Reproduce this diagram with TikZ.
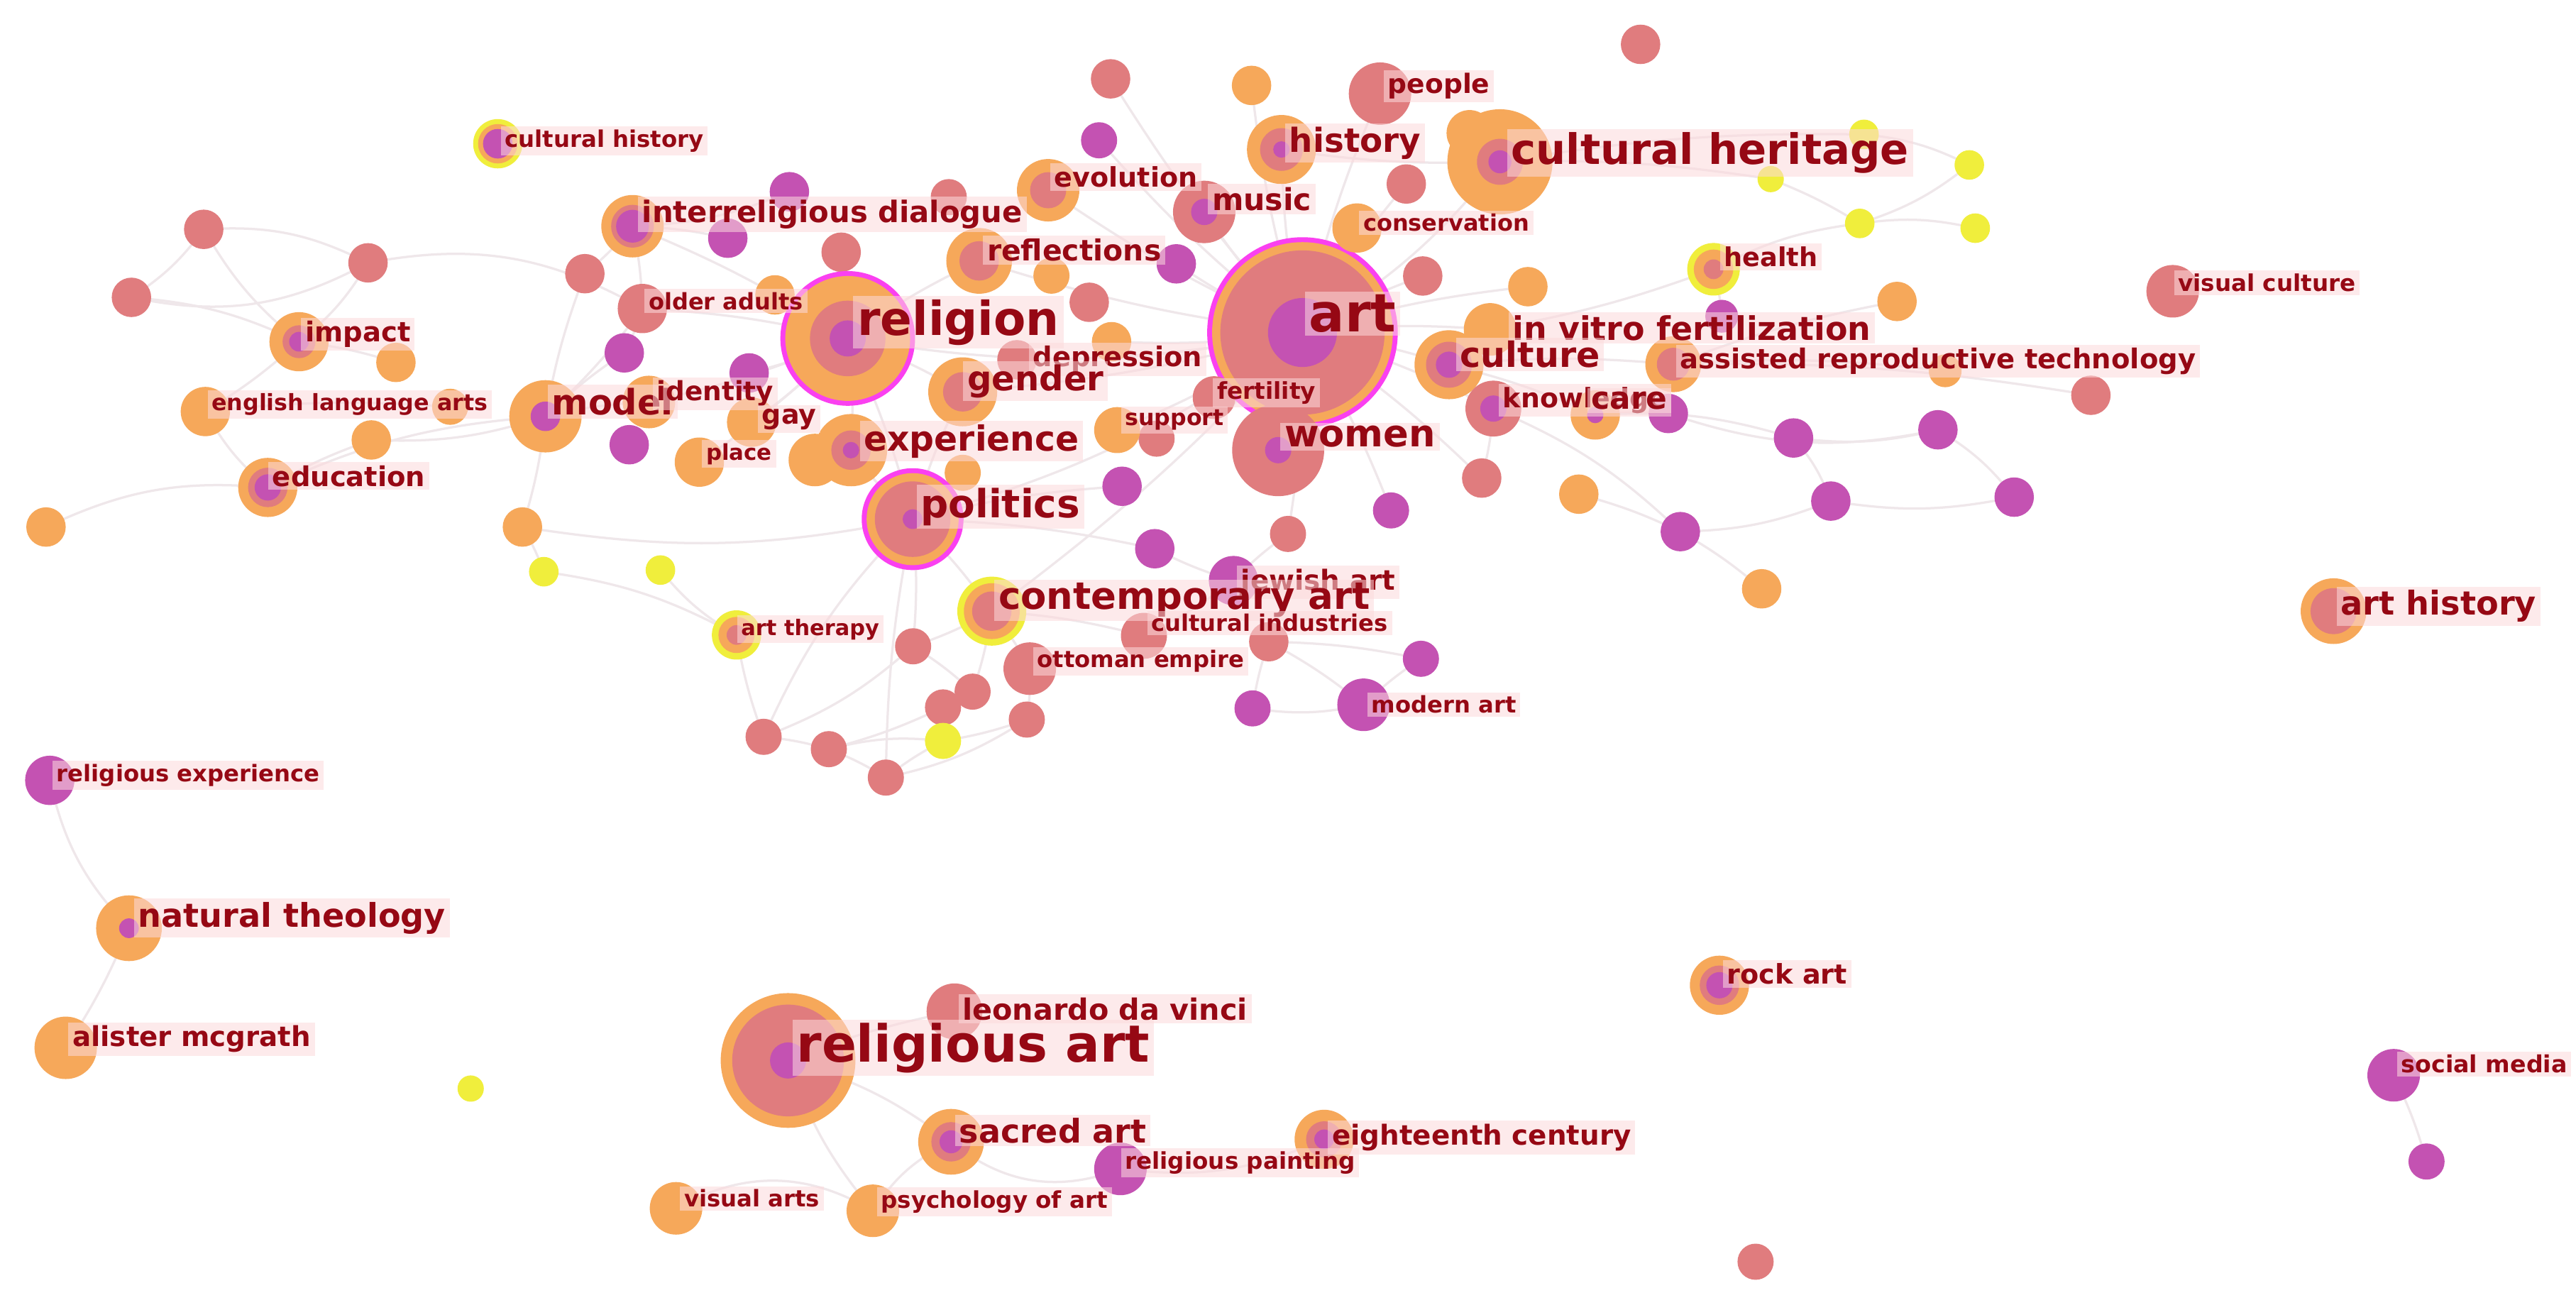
\documentclass[tikz,border=0pt]{standalone}
\usepackage{fontspec}
\usepackage{graphicx}
\newfontfamily\lf{DejaVu Sans}
\definecolor{cOr}{RGB}{246,168,90}
\definecolor{cSa}{RGB}{224,124,126}
\definecolor{cPu}{RGB}{196,82,178}
\definecolor{cYe}{RGB}{240,238,60}
\definecolor{cMg}{RGB}{250,64,240}
\definecolor{cTx}{RGB}{150,8,20}
\definecolor{cBg}{RGB}{252,218,220}
\definecolor{cEd}{RGB}{239,231,234}
\newlength\pxu
\setlength\pxu{0.02cm}
\newcommand\kw[2]{\foreach \rr/\cc in {#2}{\fill[\cc] (#1) circle (\rr);}}
\newcommand\lab[5]{\node[lab] (t#1) at (#2,#3) {\resizebox{#4\pxu}{!}{#5}};}
\tikzset{
 edge/.style={draw=cEd, line width=0.8pt},
 lab/.style={anchor=base west, fill=cBg, fill opacity=0.55, text opacity=1, text=cTx, inner xsep=0.05cm, inner ysep=0.04cm, font=\lf\bfseries},
}
\begin{document}
\begin{tikzpicture}[x=0.02cm,y=-0.02cm]
\fill[white] (0,0) rectangle (1568,797);
\useasboundingbox (0,0) rectangle (1568,797);
% ---------- labelled keyword nodes
\coordinate (art) at (792.8,202.4);
\coordinate (relig) at (516,206);
\coordinate (polit) at (555.5,316);
\coordinate (cher) at (913,98.5);
\coordinate (relart) at (479.7,645.5);
\coordinate (women) at (778,274);
\coordinate (hist) at (780,91);
\coordinate (cult) at (882,222);
\coordinate (ivf) at (907,200.5);
\coordinate (conart) at (603.7,372);
\coordinate (gender) at (586,238.5);
\coordinate (exper) at (518,274);
\coordinate (model) at (332,253.4);
\coordinate (inter) at (385,137.7);
\coordinate (refl) at (596,158.8);
\coordinate (evol) at (638,115.8);
\coordinate (music) at (733,129);
\coordinate (people) at (840,57);
\coordinate (cons) at (826,138.8);
\coordinate (depr) at (619,219);
\coordinate (ident) at (395,244.7);
\coordinate (gay) at (457.5,257);
\coordinate (place) at (425.7,281.3);
\coordinate (older) at (391,187.8);
\coordinate (impact) at (182,208);
\coordinate (ela) at (125,250.5);
\coordinate (educ) at (163,296.7);
\coordinate (chist) at (303,87.5);
\coordinate (fert) at (739,242);
\coordinate (supp) at (680,261.8);
\coordinate (know) at (909,248.7);
\coordinate (care) at (971,252.6);
\coordinate (health) at (1043,163.9);
\coordinate (asrt) at (1018.5,221.7);
\coordinate (viscul) at (1322.5,177.3);
\coordinate (arthist) at (1420.4,372);
\coordinate (jew) at (750.8,353.4);
\coordinate (culind) at (696.3,387);
\coordinate (ottoman) at (626.8,407);
\coordinate (modern) at (830,429);
\coordinate (arther) at (448.3,386.5);
\coordinate (relexp) at (30.3,475);
\coordinate (natth) at (78.5,565);
\coordinate (alister) at (40,637.8);
\coordinate (leo) at (581,615.6);
\coordinate (sacred) at (578.9,695);
\coordinate (relpaint) at (682,711.5);
\coordinate (eight) at (806,693.5);
\coordinate (visarts) at (411.5,735.5);
\coordinate (psych) at (531.3,737);
\coordinate (rock) at (1046.6,599.7);
\coordinate (social) at (1457,654.5);
% ---------- small unlabelled nodes
\coordinate (s1) at (998.6,27);
\coordinate (s2) at (676,48);
\coordinate (s3) at (856,112);
\coordinate (s4) at (866,168);
\coordinate (s5) at (512,153.5);
\coordinate (s6) at (577.5,120);
\coordinate (s7) at (663,184);
\coordinate (s8) at (704,267);
\coordinate (s9) at (901.9,291);
\coordinate (s10) at (784,325);
\coordinate (s11) at (1272.7,240.6);
\coordinate (s12) at (124,139.6);
\coordinate (s13) at (224,160);
\coordinate (s14) at (80,181);
\coordinate (s15) at (356,166.6);
\coordinate (s16) at (555.8,393.4);
\coordinate (s17) at (592,421);
\coordinate (s18) at (574,430.6);
\coordinate (s19) at (625,438);
\coordinate (s20) at (464.8,448.5);
\coordinate (s21) at (504.5,456);
\coordinate (s22) at (539.2,473.3);
\coordinate (s23) at (772.3,390.6);
\coordinate (s24) at (1068.6,768);
\coordinate (o1) at (761.8,52);
\coordinate (o2) at (930,174.5);
\coordinate (o3) at (1154.7,183.5);
\coordinate (o4) at (1184,225.7);
\coordinate (o5) at (961,300.8);
\coordinate (o6) at (1072.3,358.4);
\coordinate (o7) at (241,220.6);
\coordinate (o8) at (274,247.6);
\coordinate (o9) at (226,267.8);
\coordinate (o10) at (28,320.8);
\coordinate (o11) at (318,320.8);
\coordinate (o12) at (471.7,179.5);
\coordinate (o13) at (640,167.8);
\coordinate (o14) at (676.6,208);
\coordinate (o15) at (586,287.8);
\coordinate (o16) at (496,280);
\coordinate (o17) at (894.5,81);
\coordinate (p1) at (669,85.4);
\coordinate (p2) at (480.5,116.7);
\coordinate (p3) at (443,145);
\coordinate (p4) at (716,160.6);
\coordinate (p5) at (380,214.8);
\coordinate (p6) at (456,227);
\coordinate (p7) at (383,270.7);
\coordinate (p8) at (683,296);
\coordinate (p9) at (702.9,334);
\coordinate (p10) at (846.7,310.7);
\coordinate (p11) at (1048,192.5);
\coordinate (p12) at (1015.5,251.7);
\coordinate (p13) at (1091.7,266.6);
\coordinate (p14) at (1179.6,261.6);
\coordinate (p15) at (1114.4,305);
\coordinate (p16) at (1226,302.6);
\coordinate (p17) at (1022.8,323.6);
\coordinate (p18) at (864.9,401);
\coordinate (p19) at (762.4,431.2);
\coordinate (p20) at (1477,707);
\coordinate (y1) at (1134.6,81.8);
\coordinate (y2) at (1077.8,109);
\coordinate (y3) at (1198.7,100.4);
\coordinate (y4) at (1132,136);
\coordinate (y5) at (1202.3,138.9);
\coordinate (y6) at (331,348);
\coordinate (y7) at (402,347);
\coordinate (y8) at (574,451);
\coordinate (y9) at (286.5,662.6);
% ---------- connectors
\foreach \a/\b/\k in {
 s12/s14/10, s12/impact/-10, s12/s13/15, s13/impact/10, s14/impact/10, s14/s13/-20, s13/older/20,
 impact/ela/5, impact/o7/5, ela/o8/5, ela/educ/-10, educ/o9/5, educ/o10/-15, educ/model/10,
 model/ident/5, model/o11/5, model/s15/5, model/p5/5, model/older/-5, o11/y6/5, o11/polit/-10,
 y6/arther/10, y7/arther/-10, o9/model/-10, inter/p3/5, inter/s15/5, inter/p2/-10, inter/older/5,
 older/relig/5, older/p5/5, relig/p6/5, relig/gender/5, relig/exper/5, relig/polit/5, relig/art/-10,
 relig/s5/5, relig/refl/5, relig/inter/-5, relig/ident/5, relig/gay/5, relig/place/5, relig/o12/5,
 art/women/5, art/hist/5, art/cult/5, art/music/5, art/polit/10, art/gender/5, art/refl/5,
 art/people/5, art/cons/5, art/s4/5, art/fert/5, art/know/5, art/ivf/5, art/cher/-10, art/evol/5,
 art/depr/5, art/conart/5, art/p4/5, art/s3/5, art/o14/5, art/supp/5, art/p10/5, art/s10/5,
 art/s2/5, art/o1/5, art/p1/5, art/o2/5, art/s9/5, cher/hist/5, cher/o17/5, cher/y2/5, cher/y1/5,
 y1/y3/10, y3/y4/10, y4/y5/10, y2/y4/5, health/y4/10, health/ivf/5, health/p11/5,
 cult/know/5, cult/ivf/5, cult/care/5, cult/asrt/5, care/p12/5, care/p13/10, p13/p14/-10,
 p14/p16/10, p13/p15/10, p15/p16/-10, p17/p15/-10, know/p17/10, p12/p14/-15, asrt/o4/5,
 asrt/o3/5, p17/o6/5, know/s9/5, o5/p17/5, asrt/s11/5,
 polit/conart/5, polit/p8/5, polit/p9/5, polit/s16/5, polit/exper/5, polit/gender/5,
 conart/s16/5, conart/ottoman/5, conart/culind/5, conart/s17/5, jew/culind/5, jew/p9/5,
 jew/s10/5, s23/p18/5, s23/modern/5, modern/p19/10, modern/p18/5, p19/s23/5,
 s16/s17/5, s16/s20/10, s17/s18/5, s18/y8/5, s18/s21/5, s20/s21/5, s21/s22/5, s21/y8/10,
 s22/y8/5, s19/y8/5, ottoman/s19/5, s19/s22/10, s20/arther/5, polit/s20/-10, polit/s22/-5,
 relexp/natth/-15, natth/alister/5, relart/sacred/10, sacred/relpaint/-30, relpaint/eight/-15,
 visarts/psych/30, psych/sacred/15, relart/psych/-10, relart/leo/5, social/p20/5}
 {\draw[edge] (\a) to[bend left=\k] (\b);}
% ---------- node circles (outer ring to inner ring)
\kw{s1}{12/cSa} \kw{s2}{12/cSa} \kw{s3}{12/cSa} \kw{s4}{12/cSa} \kw{s5}{12/cSa}
\kw{s6}{11/cSa} \kw{s7}{12/cSa} \kw{s8}{11/cSa} \kw{s9}{12/cSa} \kw{s10}{11/cSa}
\kw{s11}{12/cSa} \kw{s12}{12/cSa} \kw{s13}{12/cSa} \kw{s14}{12/cSa} \kw{s15}{12/cSa}
\kw{s16}{11/cSa} \kw{s17}{11/cSa} \kw{s18}{11/cSa} \kw{s19}{11/cSa} \kw{s20}{11/cSa}
\kw{s21}{11/cSa} \kw{s22}{11/cSa} \kw{s23}{12/cSa} \kw{s24}{11/cSa}
\kw{o1}{12/cOr} \kw{o2}{12/cOr} \kw{o3}{12/cOr} \kw{o4}{10/cOr} \kw{o5}{12/cOr}
\kw{o6}{12/cOr} \kw{o7}{12/cOr} \kw{o8}{11/cOr} \kw{o9}{12/cOr} \kw{o10}{12/cOr}
\kw{o11}{12/cOr} \kw{o12}{12/cOr} \kw{o13}{11/cOr} \kw{o14}{12/cOr} \kw{o15}{11/cOr}
\kw{o16}{16/cOr} \kw{o17}{14/cOr}
\kw{p1}{11/cPu} \kw{p2}{12/cPu} \kw{p3}{12/cPu} \kw{p4}{12/cPu} \kw{p5}{12/cPu}
\kw{p6}{12/cPu} \kw{p7}{12/cPu} \kw{p8}{12/cPu} \kw{p9}{12/cPu} \kw{p10}{11/cPu}
\kw{p11}{10/cPu} \kw{p12}{12/cPu} \kw{p13}{12/cPu} \kw{p14}{12/cPu} \kw{p15}{12/cPu}
\kw{p16}{12/cPu} \kw{p17}{12/cPu} \kw{p18}{11/cPu} \kw{p19}{11/cPu} \kw{p20}{11/cPu}
\kw{y1}{9/cYe} \kw{y2}{8/cYe} \kw{y3}{9/cYe} \kw{y4}{9/cYe} \kw{y5}{9/cYe}
\kw{y6}{9/cYe} \kw{y7}{9/cYe} \kw{y8}{11/cYe} \kw{y9}{8/cYe}
\kw{art}{58/cMg,55/cOr,50/cSa,21/cPu}
\kw{relig}{41/cMg,38/cOr,23/cSa,11/cPu}
\kw{polit}{31/cMg,28/cOr,23/cSa,6/cPu}
\kw{cher}{32/cOr,14/cSa,7/cPu}
\kw{relart}{41/cOr,34/cSa,11/cPu}
\kw{women}{28/cSa,8/cPu}
\kw{hist}{21/cOr,13/cSa,5/cPu}
\kw{ivf}{16/cOr}
\kw{cult}{21/cOr,14/cSa,8/cPu}
\kw{conart}{21/cYe,17/cOr,12/cSa}
\kw{gender}{21/cOr,12/cSa}
\kw{exper}{22/cOr,12/cSa,5/cPu}
\kw{model}{22/cOr,9/cPu}
\kw{inter}{19/cOr,13/cSa,10/cPu}
\kw{refl}{20/cOr,12/cSa}
\kw{evol}{19/cOr,11/cSa}
\kw{music}{19/cSa,8/cPu}
\kw{people}{19/cSa}
\kw{cons}{15/cOr}
\kw{depr}{12/cSa}
\kw{ident}{16/cOr}
\kw{gay}{15/cOr}
\kw{place}{15/cOr}
\kw{older}{15/cSa}
\kw{impact}{18/cOr,10/cSa,6/cPu}
\kw{ela}{15/cOr}
\kw{educ}{18/cOr,12/cSa,8/cPu}
\kw{chist}{15/cYe,12/cOr,9/cPu}
\kw{fert}{13/cSa}
\kw{supp}{14/cOr}
\kw{know}{17/cSa,8/cPu}
\kw{care}{15/cOr,5/cPu}
\kw{health}{16/cYe,12/cOr,6/cSa}
\kw{asrt}{17/cOr,10/cSa}
\kw{viscul}{16/cSa}
\kw{arthist}{20/cOr,14/cSa}
\kw{jew}{15/cPu}
\kw{culind}{14/cSa}
\kw{ottoman}{16/cSa}
\kw{modern}{16/cPu}
\kw{arther}{15/cYe,11/cOr,6/cSa}
\kw{relexp}{15/cPu}
\kw{natth}{20/cOr,6/cPu}
\kw{alister}{19/cOr}
\kw{leo}{17/cSa}
\kw{sacred}{20/cOr,12/cSa,7/cPu}
\kw{relpaint}{16/cPu}
\kw{eight}{18/cOr,11/cSa,6/cPu}
\kw{visarts}{16/cOr}
\kw{psych}{16/cOr}
\kw{rock}{18/cOr,12/cSa,8/cPu}
\kw{social}{16/cPu}
% ---------- labels
\lab{chist}{304.5}{89.5}{121}{cultural history}
\lab{inter}{388}{135.5}{231.5}{interreligious dialogue}
\lab{older}{392}{188.4}{94}{older adults}
\lab{impact}{183}{208}{64}{impact}
\lab{ela}{126}{250}{168}{english language arts}
\lab{model}{333}{252.4}{74}{model}
\lab{ident}{397}{244}{71}{identity}
\lab{gay}{461}{258}{33}{gay}
\lab{place}{427}{280}{40}{place}
\lab{educ}{163}{296}{93}{education}
\lab{relig}{519}{204}{123}{religion}
\lab{evol}{639}{114}{87}{evolution}
\lab{refl}{598}{158.8}{106}{reflections}
\lab{depr}{626}{223.3}{103}{depression}
\lab{gender}{586}{237.6}{83}{gender}
\lab{exper}{523}{274.3}{131}{experience}
\lab{supp}{682}{259}{60}{support}
\lab{polit}{557.6}{315}{97}{politics}
\lab{music}{735}{128}{60.5}{music}
\lab{people}{842}{56.9}{62}{people}
\lab{hist}{782}{92.5}{80}{history}
\lab{cons}{827}{140.7}{101}{conservation}
\lab{art}{794}{202}{53}{art}
\lab{fert}{738}{243}{60}{fertility}
\lab{women}{779}{272}{92}{women}
\lab{cher}{917}{100}{242}{cultural heritage}
\lab{ivf}{918}{207}{218}{in vitro fertilization}
\lab{cult}{886}{223.6}{85}{culture}
\lab{know}{912}{248}{100}{knowledge}
\lab{care}{966}{249}{46}{care}
\lab{health}{1046.6}{162.4}{57}{health}
\lab{asrt}{1019.7}{224.4}{314}{assisted reproductive technology}
\lab{viscul}{1323}{177.3}{108}{visual culture}
\lab{arthist}{1422}{374.5}{119}{art history}
\lab{jew}{752.5}{359}{94}{jewish art}
\lab{conart}{605}{371}{226}{contemporary art}
\lab{culind}{698}{384.4}{144}{cultural industries}
\lab{ottoman}{628.5}{406.4}{126}{ottoman empire}
\lab{modern}{832}{434}{88}{modern art}
\lab{arther}{448.3}{386.6}{84}{art therapy}
\lab{relexp}{31.7}{475.8}{160}{religious experience}
\lab{natth}{81.3}{564.2}{187}{natural theology}
\lab{alister}{41.3}{637}{145}{alister mcgrath}
\lab{leo}{583}{620.8}{173.5}{leonardo da vinci}
\lab{relart}{482}{646.3}{215}{religious art}
\lab{sacred}{581}{695.5}{114}{sacred art}
\lab{relpaint}{682}{711.5}{140}{religious painting}
\lab{eight}{808}{697}{182}{eighteenth century}
\lab{visarts}{413.6}{734.7}{82.5}{visual arts}
\lab{psych}{533.4}{735.5}{138}{psychology of art}
\lab{rock}{1048.5}{599}{73}{rock art}
\lab{social}{1458.8}{652.9}{101}{social media}
\end{tikzpicture}
\end{document}
